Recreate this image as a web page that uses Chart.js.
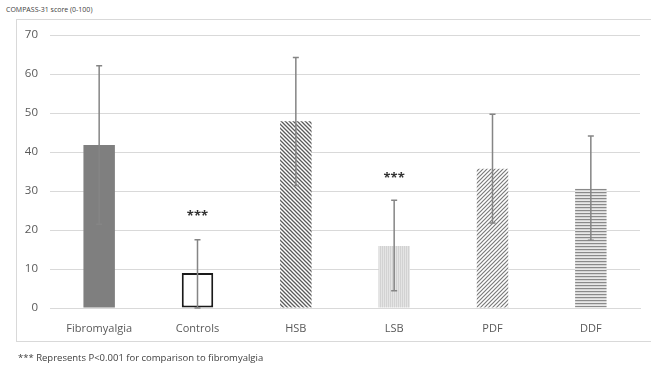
<!DOCTYPE html>
<html>
<head>
<meta charset="utf-8">
<script src="https://cdn.jsdelivr.net/npm/chart.js@4"></script>
<style>
  body { margin: 0; background: #fff; font-family: "Open Sans", sans-serif; }
  #box { position: absolute; left: 16px; top: 19px; width: 640px; height: 321px; border: 1px solid #d9d9d9; }
  #wrap { position: absolute; left: 0; top: 0; width: 651px; height: 372px; }
  #title { position: absolute; left: 6px; top: 5px; font-size: 7px; color: #404040; }
  #note { position: absolute; left: 18px; top: 351px; font-size: 9.5px; color: #404040; }
</style>
</head>
<body>
<div id="box"></div>
<div id="title">COMPASS-31 score (0-100)</div>
<div id="wrap"><canvas id="myChart"></canvas></div>
<div id="note">*** Represents P&lt;0.001 for comparison to fibromyalgia</div>
<script>
const groups = ['Fibromyalgia', 'Controls', 'HSB', 'LSB', 'PDF', 'DDF'];
const means = [41.8, 9, 47.9, 15.9, 35.7, 30.6];
const sdUp = [20.3, 8.5, 16.3, 11.7, 14.0, 13.5];
const sdDown = [20.3, 9, 16.5, 11.5, 13.9, 13.2];
const starGroups = ['Controls', 'LSB'];
const starHeights = [24.4, 34];
const yTicks = [0, 10, 20, 30, 40, 50, 60, 70];

function makePattern(kind) {
    const c = document.createElement('canvas');
    const s = 4;
    c.width = s; c.height = s;
    const g = c.getContext('2d');
    if (kind === 'back') {
        g.fillStyle = '#fff'; g.fillRect(0, 0, s, s);
        g.strokeStyle = '#5a5a5a'; g.lineWidth = 1.3;
        g.beginPath();
        g.moveTo(-1, -1); g.lineTo(s + 1, s + 1);
        g.moveTo(-1, s - 1); g.lineTo(1, s + 1);
        g.moveTo(s - 1, -1); g.lineTo(s + 1, 1);
        g.stroke();
    } else if (kind === 'fwd') {
        g.fillStyle = '#fff'; g.fillRect(0, 0, s, s);
        g.strokeStyle = '#7a7a7a'; g.lineWidth = 1.2;
        g.beginPath();
        g.moveTo(-1, s + 1); g.lineTo(s + 1, -1);
        g.moveTo(-1, 1); g.lineTo(1, -1);
        g.moveTo(s - 1, s + 1); g.lineTo(s + 1, s - 1);
        g.stroke();
    } else if (kind === 'horiz') {
        c.width = 3; c.height = 3;
        g.fillStyle = '#e8e8e8'; g.fillRect(0, 0, 3, 3);
        g.fillStyle = '#8a8a8a'; g.fillRect(0, 0, 3, 1.2);
    } else if (kind === 'vert') {
        c.width = 2; c.height = 2;
        g.fillStyle = '#e4e4e4'; g.fillRect(0, 0, 2, 2);
        g.fillStyle = '#d2d2d2'; g.fillRect(0, 0, 1, 2);
    }
    return g.createPattern(c, 'repeat');
}

const fills = ['#7f7f7f', '#ffffff', makePattern('back'), makePattern('vert'), makePattern('fwd'), makePattern('horiz')];
const borders = ['#7f7f7f', '#1a1a1a', 'rgba(0,0,0,0)', 'rgba(0,0,0,0)', 'rgba(0,0,0,0)', 'rgba(0,0,0,0)'];
const borderW = [0, 2, 0, 0, 0, 0];

const extras = {
    id: 'extras',
    afterDatasetsDraw(chart) {
        const ctx = chart.ctx;
        const x = chart.scales.x, y = chart.scales.y;
        ctx.save();
        ctx.strokeStyle = '#858585';
        ctx.lineWidth = 1.5;
        means.forEach((m, i) => {
            const px = x.getPixelForValue(i);
            const top = y.getPixelForValue(m + sdUp[i]);
            const bot = y.getPixelForValue(Math.max(0, m - sdDown[i]));
            ctx.beginPath();
            ctx.moveTo(px, top); ctx.lineTo(px, bot);
            ctx.moveTo(px - 3, top); ctx.lineTo(px + 3, top);
            ctx.moveTo(px - 3, bot); ctx.lineTo(px + 3, bot);
            ctx.stroke();
        });
        ctx.fillStyle = '#333';
        ctx.font = 'bold 13px "Open Sans"';
        ctx.textAlign = 'center';
        ctx.textBaseline = 'middle';
        starGroups.forEach((gname, i) => {
            const px = x.getPixelForValue(groups.indexOf(gname));
            ctx.fillText('***', px, y.getPixelForValue(starHeights[i]) + 3);
        });
        ctx.restore();
    }
};

new Chart('myChart', {
    type: 'bar',
    data: {
        labels: groups,
        datasets: [{
            data: means,
            backgroundColor: fills,
            borderColor: borders,
            borderWidth: borderW,
            borderSkipped: false,
            barPercentage: 0.32,
            categoryPercentage: 1
        }]
    },
    options: {
        responsive: true,
        maintainAspectRatio: false,
        animation: false,
        layout: { padding: { left: 0, right: 11, top: 35, bottom: 34 } },
        plugins: { legend: { display: false }, tooltip: { enabled: false } },
        scales: {
            x: {
                grid: { display: false },
                border: { display: true, color: '#d9d9d9' },
                ticks: { color: '#595959', font: { family: 'Open Sans', size: 11 }, padding: 6 },
                afterFit(scale) { scale.height = 30; }
            },
            y: {
                min: 0,
                max: 70,
                afterBuildTicks(scale) { scale.ticks = yTicks.map(v => ({ value: v })); },
                grid: { color: '#d9d9d9', drawTicks: false },
                border: { display: false },
                ticks: { color: '#595959', font: { family: 'Open Sans', size: 11.5 }, padding: 12 },
                afterFit(scale) { scale.width = 50; }
            }
        }
    },
    plugins: [extras]
});
</script>
</body>
</html>
